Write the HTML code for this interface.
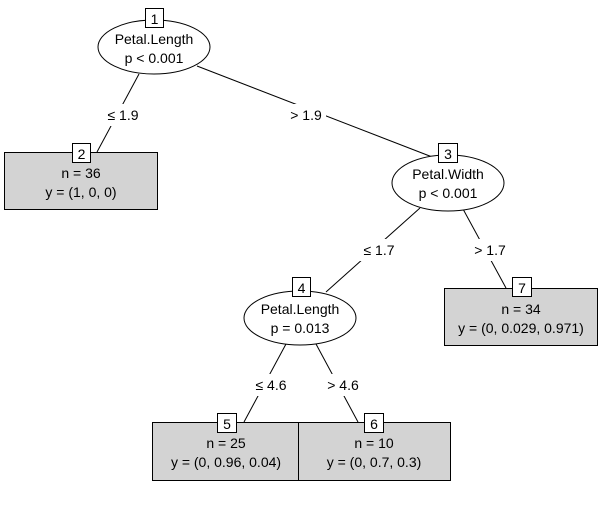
<!DOCTYPE html>
<html><head><meta charset="utf-8"><style>
html,body{margin:0;padding:0;background:#fff;}
svg{display:block;font-family:"Liberation Sans",Arial,sans-serif;}
</style></head><body>
<svg width="608" height="509" viewBox="0 0 608 509" xmlns="http://www.w3.org/2000/svg">
<g stroke="#000" stroke-width="1" fill="none">
<line x1="139" y1="74" x2="97" y2="152"/>
<line x1="197" y1="66" x2="440" y2="160"/>
<line x1="420" y1="208" x2="326" y2="292"/>
<line x1="463" y1="209" x2="506" y2="288"/>
<line x1="286" y1="344" x2="244" y2="422"/>
<line x1="316" y1="344" x2="358" y2="422"/>
</g>
<g fill="#fff">
<rect x="104" y="104" width="38" height="22"/>
<rect x="286" y="104" width="40" height="22"/>
<rect x="358" y="239" width="42" height="22"/>
<rect x="469" y="239" width="42" height="22"/>
<rect x="250" y="374" width="42" height="22"/>
<rect x="322" y="374" width="42" height="22"/>
</g>
<g font-size="14" text-anchor="middle" fill="#000">
<text x="123" y="120">≤ 1.9</text>
<text x="306" y="120">&gt; 1.9</text>
<text x="379" y="255">≤ 1.7</text>
<text x="490" y="255">&gt; 1.7</text>
<text x="271" y="390">≤ 4.6</text>
<text x="343" y="390">&gt; 4.6</text>
</g>
<g stroke="#000" fill="#fff">
<ellipse cx="154" cy="47" rx="56" ry="27"/>
<ellipse cx="448" cy="183" rx="56" ry="28"/>
<ellipse cx="300" cy="318" rx="56" ry="27"/>
</g>
<g stroke="#000" fill="#d3d3d3">
<rect x="4.5" y="152.5" width="153" height="57"/>
<rect x="444.5" y="288.5" width="153" height="57"/>
<rect x="152.5" y="422.5" width="146" height="58"/>
<rect x="298.5" y="422.5" width="152" height="58"/>
</g>
<g stroke="#000" fill="#fff">
<rect x="145.5" y="8.5" width="18" height="19"/>
<rect x="72.5" y="143.5" width="18" height="19"/>
<rect x="438.5" y="143.5" width="19" height="19"/>
<rect x="292.5" y="277.5" width="18" height="19"/>
<rect x="512.5" y="277.5" width="19" height="19"/>
<rect x="217.5" y="413.5" width="19" height="19"/>
<rect x="364.5" y="413.5" width="19" height="19"/>
</g>
<g font-size="14" text-anchor="middle" fill="#000">
<text x="154.5" y="24">1</text>
<text x="81.5" y="159">2</text>
<text x="448" y="159">3</text>
<text x="301.5" y="293">4</text>
<text x="522" y="293">7</text>
<text x="227" y="429">5</text>
<text x="374" y="429">6</text>
<text x="154" y="44">Petal.Length</text>
<text x="154" y="63">p &lt; 0.001</text>
<text x="448" y="179">Petal.Width</text>
<text x="448" y="198">p &lt; 0.001</text>
<text x="300" y="314">Petal.Length</text>
<text x="300" y="333">p = 0.013</text>
<text x="81" y="178">n = 36</text>
<text x="81" y="197">y = (1, 0, 0)</text>
<text x="521" y="314">n = 34</text>
<text x="521" y="333">y = (0, 0.029, 0.971)</text>
<text x="226" y="448">n = 25</text>
<text x="226" y="467">y = (0, 0.96, 0.04)</text>
<text x="374" y="448">n = 10</text>
<text x="374" y="467">y = (0, 0.7, 0.3)</text>
</g>
</svg>
</body></html>
